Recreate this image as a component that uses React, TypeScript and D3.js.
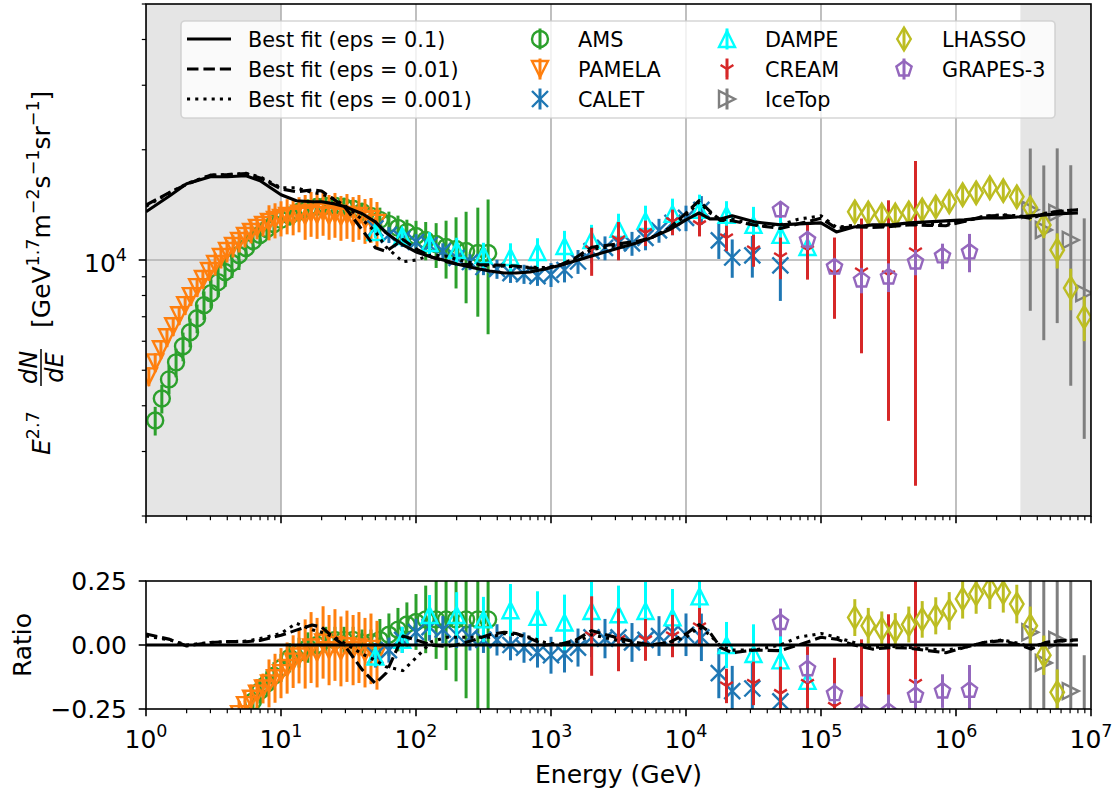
import React from "react";
import * as d3 from "d3";

// ---------------- data ----------------
// best fit (eps = 0.1), flux E^2.7 dN/dE
const fitEnergy = [1, 1.5, 2, 3, 4, 5.5, 7, 10, 13, 17, 20, 25, 30, 40, 50, 60, 80, 100, 130, 170, 200, 270, 350, 450, 550, 700, 900, 1200, 1500, 2000, 3000, 4300, 5500, 7500, 10000, 12500, 15000, 18000, 22000, 32000, 50000, 68000, 1e5, 1.3e5, 1.75e5, 2.4e5, 3.3e5, 4.5e5, 6.2e5, 8.4e5, 1.15e6, 1.6e6, 2.2e6, 3.0e6, 3.6e6, 4.6e6, 5.9e6, 8.0e6];
const fitEps01 = [13540, 14970, 16150, 16880, 16880, 16990, 16460, 15070, 14510, 14420, 14420, 14230, 13970, 13370, 12710, 11860, 10990, 10520, 10190, 9937, 9751, 9508, 9330, 9213, 9213, 9271, 9448, 9690, 9937, 10260, 10720, 11130, 11490, 12080, 12870, 13450, 12950, 12950, 13200, 12710, 12470, 12550, 12630, 11930, 12310, 12470, 12470, 12630, 12710, 12790, 12870, 13030, 13030, 13120, 13200, 13280, 13370, 13450];
// ratio of the other fits to the eps = 0.1 fit
const fitRatioEps001 = [0.043, 0.022, -0.004, 0.01, 0.013, 0.013, 0.018, 0.038, 0.058, 0.078, 0.07, 0.025, -0.006, -0.097, -0.15, -0.11, 0.035, 0.02, 0.0, -0.006, 0.0, 0.02, 0.04, 0.05, 0.045, 0.026, 0.0, 0.005, 0.017, 0.056, 0.03, 0.01, 0.0, 0.01, 0.043, 0.08, 0.05, -0.01, -0.03, -0.02, -0.022, 0.0, 0.03, 0.023, 0.0, -0.016, -0.01, -0.012, -0.022, -0.03, -0.01, 0.01, 0.017, 0.0, -0.016, 0.01, 0.017, 0.02];
const fitRatioEps0001 = [0.035, 0.02, 0.0, 0.01, 0.013, 0.015, 0.025, 0.045, 0.085, 0.06, 0.05, 0.03, 0.005, -0.035, -0.06, -0.085, -0.10, -0.05, 0.013, 0.03, 0.03, 0.03, 0.03, 0.045, 0.04, 0.03, 0.01, 0.0, 0.01, 0.04, 0.02, 0.005, 0.0, 0.01, 0.03, 0.07, 0.04, -0.005, -0.02, -0.02, 0.0, 0.03, 0.045, 0.03, 0.01, -0.01, -0.005, -0.01, -0.015, -0.02, -0.01, 0.01, 0.02, 0.005, -0.01, 0.01, 0.015, 0.02];

const amsEnergy = [1.17, 1.31, 1.48, 1.67, 1.88, 2.12, 2.39, 2.69, 3.03, 3.42, 3.85, 4.33, 4.88, 5.5, 6.2, 6.98, 7.87, 8.87, 10.0, 11.6, 13.6, 15.8, 18.5, 21.5, 25.1, 29.3, 34.2, 39.8, 46.4, 54.0, 63.0, 73.5, 85.6, 100, 118, 141, 167, 198, 235, 287, 342];
const amsFlux = [3645, 4187, 4720, 5254, 5813, 6349, 6935, 7529, 8120, 8704, 9271, 9813, 10320, 10790, 11270, 11710, 12160, 12550, 12870, 13200, 13540, 13800, 13970, 14060, 14060, 13970, 13800, 13540, 13200, 12870, 12550, 12240, 11930, 11630, 11340, 11060, 10850, 10720, 10580, 10450, 10450];
const amsErr = [0.09, 0.09, 0.09, 0.09, 0.09, 0.09, 0.09, 0.09, 0.09, 0.09, 0.09, 0.09, 0.09, 0.06, 0.06, 0.06, 0.06, 0.06, 0.06, 0.06, 0.06, 0.06, 0.05, 0.05, 0.05, 0.05, 0.05, 0.05, 0.05, 0.08, 0.08, 0.08, 0.08, 0.10, 0.12, 0.14, 0.18, 0.22, 0.28, 0.33, 0.40];
const amsRatio = [-0.73, -0.70, -0.67, -0.65, -0.62, -0.60, -0.57, -0.54, -0.51, -0.48, -0.44, -0.40, -0.36, -0.30, -0.22, -0.18, -0.15, -0.12, -0.09, -0.05, -0.03, -0.01, 0.0, 0.02, 0.02, 0.02, 0.02, 0.01, 0.01, 0.02, 0.04, 0.06, 0.08, 0.09, 0.10, 0.10, 0.10, 0.10, 0.10, 0.10, 0.10];

const pamelaEnergy = [1.05, 1.17, 1.29, 1.43, 1.59, 1.76, 1.95, 2.15, 2.39, 2.64, 2.93, 3.25, 3.59, 3.98, 4.41, 4.89, 5.41, 6.0, 6.64, 7.36, 8.15, 9.03, 10.0, 11.1, 12.3, 13.6, 15.1, 16.7, 18.5, 20.5, 22.7, 25.1, 27.8, 30.8, 34.2, 37.8, 41.9, 46.4, 51.4];
const pamelaFlux = [4811, 5254, 5705, 6152, 6595, 7068, 7529, 7967, 8433, 8870, 9330, 9751, 10190, 10580, 10920, 11270, 11630, 11930, 12240, 12470, 12710, 12870, 13030, 13200, 13120, 13370, 13200, 13450, 13280, 13540, 13200, 13370, 13120, 13280, 13030, 13200, 12870, 12950, 12630];
const pamelaErr = [0.06, 0.06, 0.06, 0.06, 0.06, 0.06, 0.06, 0.06, 0.06, 0.06, 0.06, 0.07, 0.07, 0.07, 0.07, 0.07, 0.07, 0.07, 0.07, 0.07, 0.11, 0.11, 0.11, 0.11, 0.11, 0.11, 0.14, 0.14, 0.14, 0.14, 0.14, 0.14, 0.14, 0.14, 0.14, 0.14, 0.14, 0.14, 0.14];
const pamelaRatio = [-0.65, -0.63, -0.61, -0.59, -0.57, -0.55, -0.52, -0.50, -0.47, -0.45, -0.42, -0.39, -0.36, -0.33, -0.30, -0.27, -0.235, -0.21, -0.19, -0.17, -0.15, -0.13, -0.11, -0.09, -0.065, -0.045, -0.035, -0.01, -0.03, 0.01, -0.02, 0.0, -0.025, -0.005, -0.02, -0.01, -0.03, -0.015, -0.04];

const caletEnergy = [50, 63, 79, 100, 126, 158, 200, 251, 316, 398, 501, 631, 794, 1000, 1259, 1585, 1995, 2512, 3162, 3981, 5012, 6310, 7943, 10000, 13000, 17500, 22000, 31000, 50000];
const caletFlux = [12200, 11710, 11420, 11200, 10990, 10580, 10130, 9875, 9570, 9450, 9210, 9155, 9040, 9125, 9390, 9906, 10580, 10790, 11130, 11100, 11490, 12050, 12630, 13030, 13710, 11310, 10160, 10290, 9665];
const caletErr = [0.05, 0.05, 0.05, 0.05, 0.05, 0.05, 0.05, 0.05, 0.05, 0.06, 0.06, 0.06, 0.06, 0.075, 0.075, 0.075, 0.075, 0.075, 0.075, 0.075, 0.075, 0.075, 0.075, 0.08, 0.09, 0.11, 0.12, 0.13, 0.2];
const caletRatio = [-0.04, -0.02, 0.02, 0.05, 0.07, 0.06, 0.04, 0.03, 0.02, 0.02, 0.0, -0.01, -0.03, -0.04, -0.035, -0.01, 0.03, 0.025, 0.03, 0.01, 0.02, 0.035, 0.05, 0.04, 0.03, -0.11, -0.18, -0.17, -0.22];

const dampeEnergy = [50, 79, 126, 200, 316, 501, 794, 1259, 1995, 3162, 5012, 7943, 12589, 19953, 31623, 50119, 79433];
const dampeFlux = [11930, 11630, 11130, 10650, 10320, 10190, 10520, 10920, 11340, 12160, 12790, 13370, 13710, 13280, 12470, 11710, 10850];
const dampeErr = [0.04, 0.05, 0.07, 0.08, 0.08, 0.09, 0.09, 0.1, 0.1, 0.1, 0.1, 0.1, 0.1, 0.09, 0.12, 0.16, 0.15];
const dampeRatio = [-0.045, 0.02, 0.117, 0.117, 0.10, 0.136, 0.11, 0.088, 0.133, 0.12, 0.133, 0.108, 0.19, 0.0, -0.035, -0.06, -0.14];

const creamEnergy = [2000, 3162, 5012, 7943, 12589, 19953, 31623, 50119, 79433, 125893, 199526, 316228, 501187];
const creamFlux = [10650, 11340, 11860, 12710, 12470, 11490, 10650, 10190, 10650, 9213, 9271, 9097, 10520];
const creamErr = [0.15, 0.12, 0.08, 0.08, 0.07, 0.08, 0.1, 0.13, 0.17, 0.25, 0.4, 0.6, 0.77];
const creamRatio = [0.035, 0.02, 0.02, 0.035, 0.07, -0.16, -0.15, -0.19, -0.15, -0.24, -0.27, -0.30, -0.15];

const icetopEnergy = [3.55e6, 4.47e6, 5.62e6, 7.08e6, 8.91e6];
const icetopFlux = [13710, 12080, 13450, 11340, 8120];
const icetopErr = [0.47, 0.5, 0.5, 0.6, 0.6];
const icetopRatio = [0.05, -0.07, 0.02, -0.18, -0.40];

const lhassoEnergy = [1.78e5, 2.24e5, 2.82e5, 3.55e5, 4.47e5, 5.62e5, 7.08e5, 8.91e5, 1.12e6, 1.41e6, 1.78e6, 2.24e6, 2.82e6, 3.55e6, 4.47e6, 5.62e6, 7.08e6, 8.91e6];
const lhassoFlux = [13540, 13450, 13280, 13280, 13450, 13710, 13970, 14420, 15070, 15260, 15750, 15460, 14880, 13880, 12470, 10650, 8380, 6980];
const lhassoErr = [0.065, 0.065, 0.065, 0.065, 0.065, 0.065, 0.065, 0.065, 0.065, 0.065, 0.065, 0.065, 0.065, 0.07, 0.08, 0.11, 0.13, 0.14];
const lhassoRatio = [0.107, 0.075, 0.062, 0.056, 0.08, 0.10, 0.114, 0.133, 0.18, 0.2, 0.22, 0.205, 0.16, 0.075, -0.04, -0.185, -0.35, -0.45];

const grapesEnergy = [50119, 79433, 125893, 199526, 316228, 501187, 794328, 1258925];
const grapesFlux = [13710, 11340, 9568, 8815, 8984, 9875, 10260, 10520];
const grapesErr = [0.05, 0.06, 0.05, 0.08, 0.09, 0.08, 0.08, 0.12];
const grapesRatio = [0.088, -0.093, -0.19, -0.26, -0.26, -0.197, -0.18, -0.177];

const shadedRanges = [[1, 10], [3e6, 1e7]];
const ratioTicks = [-0.25, 0, 0.25];
const ratioTickLabels = ["\u22120.25", "0.00", "0.25"];
const fitLabels = ["Best fit (eps = 0.1)", "Best fit (eps = 0.01)", "Best fit (eps = 0.001)"];

// ---------------- style ----------------
const FONT = "'DejaVu Sans', sans-serif";
const MS = 16;
const MEW = 2.4;
const ELW = 3;
const LW = 3.1;

const series = [
  { name: "AMS", color: "#2ca02c", marker: "o", E: amsEnergy, F: amsFlux, err: amsErr, R: amsRatio },
  { name: "PAMELA", color: "#ff7f0e", marker: "v", E: pamelaEnergy, F: pamelaFlux, err: pamelaErr, R: pamelaRatio },
  { name: "CALET", color: "#1f77b4", marker: "x", E: caletEnergy, F: caletFlux, err: caletErr, R: caletRatio },
  { name: "DAMPE", color: "#00ffff", marker: "^", E: dampeEnergy, F: dampeFlux, err: dampeErr, R: dampeRatio },
  { name: "CREAM", color: "#d62728", marker: "1", E: creamEnergy, F: creamFlux, err: creamErr, R: creamRatio },
  { name: "IceTop", color: "#7f7f7f", marker: ">", E: icetopEnergy, F: icetopFlux, err: icetopErr, R: icetopRatio },
  { name: "LHASSO", color: "#bcbd22", marker: "d", E: lhassoEnergy, F: lhassoFlux, err: lhassoErr, R: lhassoRatio },
  { name: "GRAPES-3", color: "#9467bd", marker: "p", E: grapesEnergy, F: grapesFlux, err: grapesErr, R: grapesRatio },
];

function markerPath(kind: string, ms: number): string {
  const h = ms / 2;
  switch (kind) {
    case "v": return `M0,${h}L${-h},${-h}L${h},${-h}Z`;
    case "^": return `M0,${-h}L${-h},${h}L${h},${h}Z`;
    case ">": return `M${h},0L${-h},${-h}L${-h},${h}Z`;
    case "x": return `M${-h},${-h}L${h},${h}M${-h},${h}L${h},${-h}`;
    case "1": return `M0,0L0,${h}M0,0L${0.8 * h},${-0.5 * h}M0,0L${-0.8 * h},${-0.5 * h}`;
    case "d": {
      const a = 0.707 * ms, b = 0.424 * ms;
      return `M0,${-a}L${b},0L0,${a}L${-b},0Z`;
    }
    case "p": {
      const pts = d3.range(5).map((k) => {
        const ang = ((90 + 72 * k) * Math.PI) / 180;
        return [h * Math.cos(ang), -h * Math.sin(ang)];
      });
      return "M" + pts.map((p) => `${p[0].toFixed(2)},${p[1].toFixed(2)}`).join("L") + "Z";
    }
    default: return "";
  }
}

function Marker({ kind, cx, cy, color }: { kind: string; cx: number; cy: number; color: string }) {
  if (kind === "o") {
    return <circle cx={cx} cy={cy} r={MS / 2} fill="none" stroke={color} strokeWidth={MEW} />;
  }
  return (
    <path d={markerPath(kind, MS)} transform={`translate(${cx},${cy})`} fill="none" stroke={color}
      strokeWidth={MEW} strokeLinejoin="miter" />
  );
}

const isMajor = (v: number) => Math.abs(Math.log10(v) - Math.round(Math.log10(v))) < 1e-9;

export default function App() {
  const W = 1118, H = 799;
  const x = d3.scaleLog().domain([1, 1e7]).range([146, 1091]);
  const y = d3.scaleLog().domain([2e3, 5e4]).range([516, 4]);
  const yr = d3.scaleLinear().domain([-0.25, 0.25]).range([709, 581]);
  const [xl, xr] = x.range();
  const [yb, yt] = y.range();
  const [rb, rt] = yr.range();

  const xTicks = x.ticks();
  const yTicks = y.ticks();

  const fitDashed = fitEps01.map((v, i) => v * (1 + fitRatioEps001[i]));
  const fitDotted = fitEps01.map((v, i) => v * (1 + fitRatioEps0001[i]));

  const lineTop = d3.line<[number, number]>().x((d) => x(d[0])).y((d) => y(d[1]));
  const lineRat = d3.line<[number, number]>().x((d) => x(d[0])).y((d) => yr(d[1]));
  const zip = (a: number[], b: number[]) => a.map((v, i) => [v, b[i]] as [number, number]);

  const fits = [
    { vals: fitEps01, ratio: fitEps01.map(() => 0), dash: undefined },
    { vals: fitDashed, ratio: fitRatioEps001, dash: `${3.7 * LW},${1.6 * LW}` },
    { vals: fitDotted, ratio: fitRatioEps0001, dash: `${1 * LW},${1.65 * LW}` },
  ];

  // legend layout
  const legRows = [39, 69, 99];
  const legCols = [{ h: 209, t: 248 }, { h: 540, t: 578 }, { h: 727, t: 765 }, { h: 904, t: 942 }];
  const legendItems: { col: number; row: number; label: string; kind: "line" | "marker"; idx: number }[] = [];
  fitLabels.forEach((l, i) => legendItems.push({ col: 0, row: i, label: l, kind: "line", idx: i }));
  series.forEach((s, i) => legendItems.push({ col: 1 + Math.floor(i / 3), row: i % 3, label: s.name, kind: "marker", idx: i }));

  return (
    <svg width={W} height={H} style={{ position: "absolute", left: 0, top: 0, background: "#fff" }}
      fontFamily={FONT}>
      <defs>
        <clipPath id="clipTop"><rect x={xl} y={yt} width={xr - xl} height={yb - yt} /></clipPath>
        <clipPath id="clipRat"><rect x={xl} y={rt} width={xr - xl} height={rb - rt} /></clipPath>
      </defs>
      <rect x={0} y={0} width={W} height={H} fill="#fff" />

      {/* ---------- top panel ---------- */}
      <g clipPath="url(#clipTop)">
        {shadedRanges.map((r, i) => (
          <rect key={i} x={x(r[0])} y={yt} width={x(r[1]) - x(r[0])} height={yb - yt} fill="#e5e5e5" />
        ))}
        {xTicks.filter(isMajor).map((v) => (
          <line key={v} x1={x(v)} x2={x(v)} y1={yt} y2={yb} stroke="#b0b0b0" strokeWidth={1.6} />
        ))}
        {yTicks.filter(isMajor).map((v) => (
          <line key={v} x1={xl} x2={xr} y1={y(v)} y2={y(v)} stroke="#b0b0b0" strokeWidth={1.6} />
        ))}
        {series.map((s) => (
          <g key={s.name}>
            {s.E.map((e, i) => (
              <line key={i} x1={x(e)} x2={x(e)} y1={y(s.F[i] * (1 - s.err[i]))} y2={y(s.F[i] * (1 + s.err[i]))}
                stroke={s.color} strokeWidth={ELW} />
            ))}
            {s.E.map((e, i) => (
              <Marker key={"m" + i} kind={s.marker} cx={x(e)} cy={y(s.F[i])} color={s.color} />
            ))}
          </g>
        ))}
        {fits.map((f, i) => (
          <path key={i} d={lineTop(zip(fitEnergy, f.vals)) || ""} fill="none" stroke="#000" strokeWidth={LW}
            strokeDasharray={f.dash} strokeLinejoin="round" />
        ))}
      </g>
      <rect x={xl} y={yt} width={xr - xl} height={yb - yt} fill="none" stroke="#000" strokeWidth={1.6} />
      {/* top x ticks (no labels) */}
      {xTicks.map((v) => (
        <line key={"tx" + v} x1={x(v)} x2={x(v)} y1={yb} y2={yb + (isMajor(v) ? 7.3 : 4.2)} stroke="#000"
          strokeWidth={isMajor(v) ? 1.6 : 1.2} />
      ))}
      {yTicks.map((v) => (
        <line key={"ty" + v} x1={xl - (isMajor(v) ? 7.3 : 4.2)} x2={xl} y1={y(v)} y2={y(v)} stroke="#000"
          strokeWidth={isMajor(v) ? 1.6 : 1.2} />
      ))}
      {yTicks.filter(isMajor).map((v) => (
        <text key={"yl" + v} x={127} y={y(v) + 12} textAnchor="end" fontSize={25}>
          10<tspan dy={-11} fontSize={17.5}>{Math.round(Math.log10(v))}</tspan>
        </text>
      ))}
      {/* y label */}
      <g transform="translate(50,266) rotate(-90)">
        <text x={-189} y={0} fontSize={25}>
          <tspan fontStyle="italic">E</tspan><tspan dy={-11} fontSize={17.5}>2.7</tspan>
        </text>
        <text x={-101.5} y={-13} fontSize={24} fontStyle="italic" textAnchor="middle">dN</text>
        <line x1={-120} x2={-83} y1={-9} y2={-9} stroke="#000" strokeWidth={1.5} />
        <text x={-101.5} y={13} fontSize={24} fontStyle="italic" textAnchor="middle">dE</text>
        <text x={-62} y={0} fontSize={25}>
          [GeV<tspan dy={-11} fontSize={17.5}>1.7</tspan><tspan dy={11}>m</tspan><tspan dy={-11} fontSize={17.5}>{"\u22122"}</tspan><tspan dy={11}>s</tspan><tspan dy={-11} fontSize={17.5}>{"\u22121"}</tspan><tspan dy={11}>sr</tspan><tspan dy={-11} fontSize={17.5}>{"\u22121"}</tspan><tspan dy={11}>]</tspan>
        </text>
      </g>

      {/* legend */}
      <g>
        <rect x={181} y={21} width={874} height={97} rx={4} fill="#fff" fillOpacity={0.8} stroke="#cccccc"
          strokeOpacity={0.8} strokeWidth={1.6} />
        {legendItems.map((it, k) => {
          const cy = legRows[it.row];
          const col = legCols[it.col];
          return (
            <g key={k}>
              {it.kind === "line" ? (
                <line x1={col.h - 22} x2={col.h + 22} y1={cy} y2={cy} stroke="#000" strokeWidth={LW}
                  strokeDasharray={fits[it.idx].dash} />
              ) : (
                <g>
                  <line x1={col.h} x2={col.h} y1={cy - 10.5} y2={cy + 10.5} stroke={series[it.idx].color}
                    strokeWidth={ELW} />
                  <Marker kind={series[it.idx].marker} cx={col.h} cy={cy} color={series[it.idx].color} />
                </g>
              )}
              <text x={col.t} y={cy + 7.5} fontSize={20.8}>{it.label}</text>
            </g>
          );
        })}
      </g>

      {/* ---------- ratio panel ---------- */}
      <g clipPath="url(#clipRat)">
        {series.map((s) => (
          <g key={s.name}>
            {s.E.map((e, i) => (
              <line key={i} x1={x(e)} x2={x(e)} y1={yr(s.R[i] - (1 + s.R[i]) * s.err[i])}
                y2={yr(s.R[i] + (1 + s.R[i]) * s.err[i])} stroke={s.color} strokeWidth={ELW} />
            ))}
            {s.E.map((e, i) => (
              <Marker key={"m" + i} kind={s.marker} cx={x(e)} cy={yr(s.R[i])} color={s.color} />
            ))}
          </g>
        ))}
        {fits.map((f, i) => (
          <path key={i} d={lineRat(zip(fitEnergy, f.ratio)) || ""} fill="none" stroke="#000" strokeWidth={LW}
            strokeDasharray={f.dash} strokeLinejoin="round" />
        ))}
      </g>
      <rect x={xl} y={rt} width={xr - xl} height={rb - rt} fill="none" stroke="#000" strokeWidth={1.6} />
      {xTicks.map((v) => (
        <line key={"rx" + v} x1={x(v)} x2={x(v)} y1={rb} y2={rb + (isMajor(v) ? 7.3 : 4.2)} stroke="#000"
          strokeWidth={isMajor(v) ? 1.6 : 1.2} />
      ))}
      {xTicks.filter(isMajor).map((v) => (
        <text key={"xl" + v} x={x(v)} y={748} textAnchor="middle" fontSize={25}>
          10<tspan dy={-11} fontSize={17.5}>{Math.round(Math.log10(v))}</tspan>
        </text>
      ))}
      {ratioTicks.map((v, i) => (
        <g key={"rt" + i}>
          <line x1={xl - 7.3} x2={xl} y1={yr(v)} y2={yr(v)} stroke="#000" strokeWidth={1.6} />
          <text x={127} y={yr(v) + 9} textAnchor="end" fontSize={25}>{ratioTickLabels[i]}</text>
        </g>
      ))}
      <text transform={`translate(31,${(rb + rt) / 2}) rotate(-90)`} textAnchor="middle" fontSize={25}>Ratio</text>
      <text x={(xl + xr) / 2} y={783} textAnchor="middle" fontSize={25}>Energy (GeV)</text>
    </svg>
  );
}
